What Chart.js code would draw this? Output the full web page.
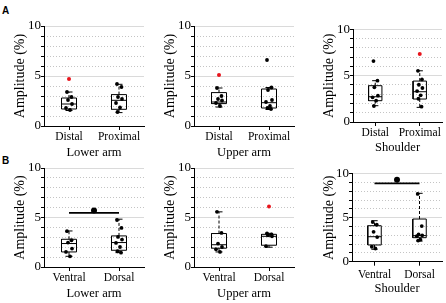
<!DOCTYPE html>
<html>
<head>
<meta charset="utf-8">
<script src="https://cdn.jsdelivr.net/npm/chart.js@4.4.0/dist/chart.umd.min.js"></script>
<style>
  body { margin: 0; background: #fff; }
  #wrap { position: relative; width: 446px; height: 303px; overflow: hidden; }
  #wrap canvas { position: absolute; }
  .tag { position: absolute; font: bold 10px "Liberation Sans", Arial, sans-serif; color: #000; }
</style>
</head>
<body>
<div id="wrap">
  <div class="tag" style="left:2px;top:5px">A</div>
  <div class="tag" style="left:2px;top:155px">B</div>
  <canvas id="c1" width="150" height="160" style="left:0;top:0"></canvas>
  <canvas id="c2" width="150" height="160" style="left:150px;top:0"></canvas>
  <canvas id="c3" width="150" height="155" style="left:296px;top:0"></canvas>
  <canvas id="c4" width="150" height="153" style="left:0;top:150px"></canvas>
  <canvas id="c5" width="150" height="153" style="left:150px;top:150px"></canvas>
  <canvas id="c6" width="150" height="146" style="left:296px;top:150px"></canvas>
</div>
<script>
// categories
const groupsA = ['Distal', 'Proximal'];
const groupsB = ['Ventral', 'Dorsal'];
const regions = ['Lower arm', 'Upper arm', 'Shoulder'];
const yTicks = [0, 5, 10];

// per group: black points, red outliers, box = [low, q1, median, q3, high]
const lowerA_pts = [[3.4, 2.9, 2.6, 2.2, 1.8, 1.6], [4.2, 3.9, 2.9, 2.7, 2.3, 1.85, 1.4]];
const lowerA_red = [[4.7], []];
const lowerA_box = [[1.55, 1.7, 2.2, 2.8, 3.4], [1.34, 1.67, 2.57, 3.14, 4.17]];

const upperA_pts = [[3.8, 3.0, 2.7, 2.55, 2.3, 2.0], [6.6, 3.85, 3.6, 2.6, 2.4, 2.0, 1.8, 1.7]];
const upperA_red = [[5.1], []];
const upperA_box = [[1.9, 2.24, 2.4, 3.34, 3.8], [1.65, 1.8, 2.33, 3.7, 3.85]];

const shoulderA_pts = [[6.58, 4.46, 3.74, 2.84, 2.66, 2.3, 1.73], [5.53, 4.6, 4.02, 3.67, 3.34, 2.88, 2.51, 1.65]];
const shoulderA_red = [[], [7.33]];
const shoulderA_box = [[1.76, 2.3, 2.73, 3.92, 4.46], [1.58, 2.48, 3.27, 4.42, 5.53]];

const lowerB_pts = [[3.62, 2.7, 2.47, 1.86, 1.52, 1.08], [4.75, 3.95, 3.04, 2.77, 2.43, 2.02, 1.59, 1.45]];
const lowerB_red = [[], []];
const lowerB_box = [[1.08, 1.52, 2.37, 2.8, 3.64], [1.45, 1.69, 2.47, 3.14, 4.83]];
const lowerB_sig = [5.47, 5.71];

const upperB_pts = [[5.57, 3.44, 2.37, 2.02, 1.79, 1.52], [3.4, 3.3, 3.2, 3.1, 2.1]];
const upperB_red = [[], [6.1]];
const upperB_box = [[1.52, 1.9, 2.25, 3.38, 5.57], [2.0, 2.2, 3.1, 3.3, 3.4]];

const shoulderB_pts = [[4.5, 4.2, 3.4, 2.8, 1.7, 1.5], [7.7, 4.05, 3.1, 3.0, 2.9, 2.5, 2.4]];
const shoulderB_red = [[], []];
const shoulderB_box = [[1.41, 1.9, 2.84, 4.09, 4.66], [2.35, 2.73, 2.96, 4.85, 7.77]];
const shoulderB_sig = [8.9, 9.3];

// style constants
const BW = 0.15, CAP = 0.07;
const JIT = [-0.04, 0.05, -0.02, 0.06, -0.06, 0.02, -0.03, 0.04];
const SERIF = '"Liberation Serif", "Times New Roman", serif';

function seg(pts, dash, order) {
    return {
        data: pts.map(p => ({x: p[0], y: p[1]})),
        borderColor: '#000', borderWidth: 1, borderDash: dash || [],
        pointRadius: 0, fill: false, showLine: true, order: order || 2
    };
}

function buildDatasets(pts, red, box, sig) {
    const ds = [];
    box.forEach((b, i) => {
        const [lo, q1, med, q3, hi] = b;
        ds.push(seg([[i - BW, q1], [i + BW, q1], [i + BW, q3], [i - BW, q3], [i - BW, q1]]));
        ds.push(seg([[i - BW, med], [i + BW, med]]));
        ds.push(seg([[i, q3], [i, hi], [i, null], [i, q1], [i, lo]], [3, 2]));
        ds.push(seg([[i - CAP, hi], [i + CAP, hi], [i, null], [i - CAP, lo], [i + CAP, lo]]));
    });
    pts.forEach((g, i) => {
        ds.push({
            data: g.map((v, k) => ({x: i + JIT[k % JIT.length], y: v})),
            showLine: false, pointRadius: 1.9, pointBorderWidth: 0,
            pointBackgroundColor: '#000', order: 0
        });
    });
    red.forEach((g, i) => {
        ds.push({
            data: g.map(v => ({x: i, y: v})),
            showLine: false, pointRadius: 2, pointBorderWidth: 0,
            pointBackgroundColor: '#e8141c', order: 0
        });
    });
    if (sig) {
        const l = seg([[0, sig[0]], [1, sig[0]]], [], 1);
        l.borderWidth = 1.6;
        ds.push(l);
        ds.push({
            data: [{x: 0.5, y: sig[1]}], showLine: false, pointRadius: 3,
            pointBorderWidth: 0, pointBackgroundColor: '#000', order: 0
        });
    }
    return ds;
}

function makePanel(id, labels, region, pts, red, box, sig, g) {
    new Chart(document.getElementById(id), {
        type: 'line',
        data: {datasets: buildDatasets(pts, red, box, sig)},
        options: {
            responsive: false, animation: false,
            layout: {padding: {top: g.pt, right: g.pr, left: 0, bottom: 0}},
            plugins: {legend: {display: false}, tooltip: {enabled: false}},
            scales: {
                x: {
                    type: 'linear', min: -0.5, max: 1.5,
                    afterBuildTicks: s => { s.ticks = labels.map((l, i) => ({value: i})); },
                    afterFit: s => { s.height = g.xh; },
                    ticks: {
                        padding: g.xp, maxRotation: 0, autoSkip: false,
                        color: '#000', font: {family: SERIF, size: 11.5},
                        callback: v => labels[Math.round(v)]
                    },
                    grid: {drawOnChartArea: false, tickLength: 4, tickColor: '#000'},
                    border: {color: '#000', width: 1},
                    title: {
                        display: true, text: region, color: '#000',
                        font: {family: SERIF, size: 12.5}, padding: {top: 0, bottom: g.xb}
                    }
                },
                y: {
                    min: 0, max: 10,
                    afterFit: s => { s.width = g.yw; },
                    ticks: {
                        stepSize: 1, autoSkip: false, padding: 0, color: '#000',
                        font: {family: SERIF, size: 13},
                        callback: v => yTicks.includes(v) ? v : ''
                    },
                    grid: {
                        color: c => (c.tick && c.tick.value > 0 && yTicks.includes(c.tick.value)) ? '#dadada' : 'rgba(0,0,0,0)',
                        tickColor: '#000', tickLength: 3
                    },
                    border: {color: '#000', width: 1},
                    title: {
                        display: true, text: 'Amplitude (%)', color: '#000',
                        font: {family: SERIF, size: 14}, padding: {top: g.yt, bottom: 0}
                    }
                },
                yd: {
                    position: 'left', min: 0, max: 10,
                    afterFit: s => { s.width = 0; },
                    ticks: {display: false, stepSize: 1},
                    grid: {
                        drawTicks: false,
                        color: c => (c.tick && !yTicks.includes(c.tick.value)) ? '#c4c4c4' : 'rgba(0,0,0,0)'
                    },
                    border: {display: false, dash: [1, 2]}
                }
            }
        }
    });
}

const geoTop = {pt: 26, pr: 6, yw: 44, xh: 34, xp: 0, xb: 0, yt: 11.5};
const geoTopS = {pt: 29.4, pr: 3, yw: 57, xh: 33, xp: 0, xb: 0, yt: 25};
const geoBot = {pt: 18, pr: 6, yw: 44, xh: 36, xp: 0, xb: 1.5, yt: 11.5};
const geoBotS = {pt: 23.7, pr: 3, yw: 56, xh: 34.3, xp: 2, xb: 0, yt: 25};

makePanel('c1', groupsA, regions[0], lowerA_pts, lowerA_red, lowerA_box, null, geoTop);
makePanel('c2', groupsA, regions[1], upperA_pts, upperA_red, upperA_box, null, geoTop);
makePanel('c3', groupsA, regions[2], shoulderA_pts, shoulderA_red, shoulderA_box, null, geoTopS);
makePanel('c4', groupsB, regions[0], lowerB_pts, lowerB_red, lowerB_box, lowerB_sig, geoBot);
makePanel('c5', groupsB, regions[1], upperB_pts, upperB_red, upperB_box, null, geoBot);
makePanel('c6', groupsB, regions[2], shoulderB_pts, shoulderB_red, shoulderB_box, shoulderB_sig, geoBotS);
</script>
</body>
</html>
